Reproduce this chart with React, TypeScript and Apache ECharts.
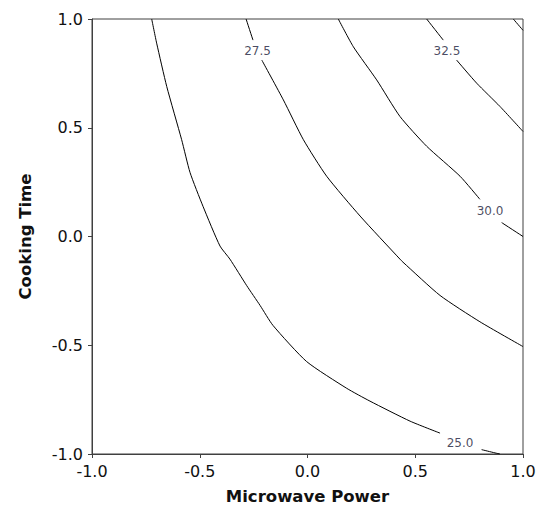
import React, { useEffect, useRef } from "react";
import * as echarts from "echarts";

// Contour lines (x = Microwave Power, y = Cooking Time)
const contour25a: [number, number][] = [
  [-0.723, 1.0], [-0.7, 0.889], [-0.653, 0.689], [-0.584, 0.445], [-0.545, 0.294],
  [-0.485, 0.139], [-0.406, -0.044], [-0.36, -0.104], [-0.282, -0.226], [-0.22, -0.317],
  [-0.16, -0.409], [-0.004, -0.575], [0.182, -0.698], [0.29, -0.757], [0.476, -0.849],
  [0.615, -0.904],
];
const contour25b: [number, number][] = [
  [0.808, -0.98], [0.87, -0.995], [0.893, -1.0],
];
const contour275a: [number, number][] = [
  [-0.285, 1.0], [-0.253, 0.903],
];
const contour275b: [number, number][] = [
  [-0.212, 0.811], [-0.112, 0.628], [-0.019, 0.445], [0.089, 0.277], [0.244, 0.094],
  [0.429, -0.104], [0.443, -0.118], [0.615, -0.271], [0.8, -0.392], [1.0, -0.506],
];
const contour30a: [number, number][] = [
  [0.143, 1.0], [0.213, 0.872], [0.321, 0.72], [0.429, 0.552], [0.553, 0.415],
  [0.708, 0.277], [0.8, 0.171],
];
const contour30b: [number, number][] = [
  [0.901, 0.064], [1.0, 0.0],
];
const contour325a: [number, number][] = [
  [0.553, 1.0], [0.63, 0.903],
];
const contour325b: [number, number][] = [
  [0.692, 0.811], [0.785, 0.705], [0.893, 0.598], [1.0, 0.483],
];
const contour35: [number, number][] = [
  [0.955, 1.0], [1.0, 0.948],
];

const contourLabels: string[] = ["25.0", "27.5", "30.0", "32.5"];
const contourLabelPos: [number, number][] = [
  [0.708, -0.949], [-0.232, 0.852], [0.847, 0.116], [0.647, 0.852],
];

const xTitle = "Microwave Power";
const yTitle = "Cooking Time";

export default function App() {
  const ref = useRef<HTMLDivElement>(null);
  useEffect(() => {
    if (!ref.current) return;
    const chart = echarts.init(ref.current, undefined, { renderer: "svg" });
    const segments = [
      contour25a, contour25b, contour275a, contour275b, contour30a,
      contour30b, contour325a, contour325b, contour35,
    ];
    const axisCommon = {
      type: "value" as const,
      min: -1,
      max: 1,
      interval: 0.5,
      splitLine: { show: false },
      axisLine: { show: true, onZero: false, lineStyle: { color: "#404040", width: 1 } },
      axisTick: { show: true, inside: false, length: 4, lineStyle: { color: "#404040" } },
      axisLabel: {
        color: "#111",
        fontFamily: "DejaVu Sans",
        fontSize: 16,
        formatter: (v: number) => v.toFixed(1),
      },
      nameLocation: "middle" as const,
      nameTextStyle: {
        color: "#111",
        fontFamily: "DejaVu Sans",
        fontWeight: "bold" as const,
        fontSize: 16.5,
      },
    };
    chart.setOption({
      animation: false,
      backgroundColor: "#fff",
      grid: {
        left: 92,
        right: 17,
        top: 19,
        bottom: 54,
        show: true,
        borderColor: "#404040",
        borderWidth: 1,
        backgroundColor: "transparent",
      },
      xAxis: {
        ...axisCommon,
        name: xTitle,
        nameGap: 34,
        axisLabel: { ...axisCommon.axisLabel, margin: 9 },
      },
      yAxis: {
        ...axisCommon,
        name: yTitle,
        nameGap: 58,
        axisLabel: { ...axisCommon.axisLabel, margin: 9 },
      },
      series: [
        ...segments.map((seg) => ({
          type: "line",
          data: seg,
          showSymbol: false,
          symbol: "none",
          smooth: 0.2,
          clip: true,
          lineStyle: { color: "#000", width: 1 },
          silent: true,
        })),
        {
          type: "scatter",
          symbolSize: 0,
          data: contourLabelPos.map((p, i) => ({ value: p, name: contourLabels[i] })),
          label: {
            show: true,
            position: "inside",
            formatter: (p: any) => p.name,
            color: "#1a1a3a",
            fontFamily: "DejaVu Sans",
            fontSize: 12,
          },
          silent: true,
        },
      ],
    });
    return () => chart.dispose();
  }, []);
  return (
    <div
      ref={ref}
      style={{ position: "absolute", left: 0, top: 0, width: 540, height: 510 }}
    />
  );
}
